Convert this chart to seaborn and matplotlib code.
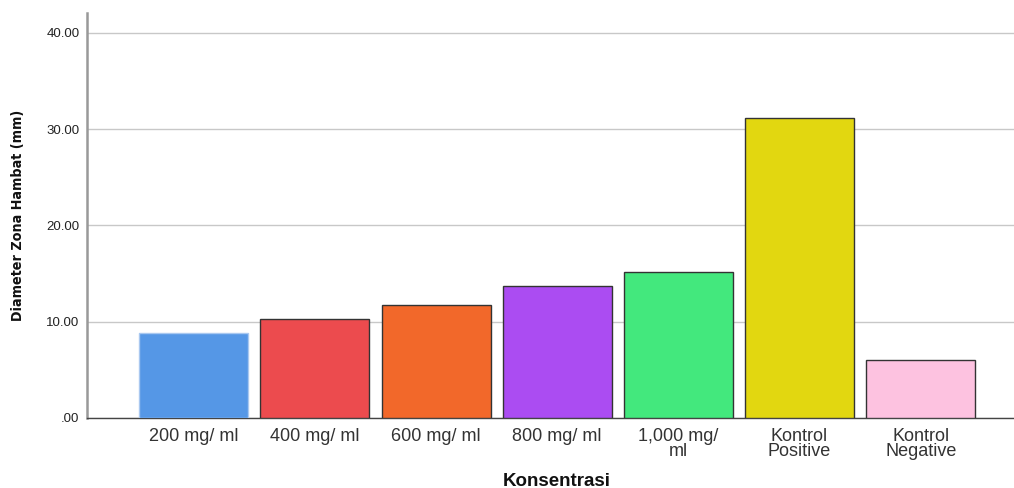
import matplotlib
matplotlib.use("Agg")
import matplotlib.pyplot as plt
import seaborn as sns
import pandas as pd
from matplotlib.ticker import FuncFormatter

categories = ["200 mg/ ml", "400 mg/ ml", "600 mg/ ml", "800 mg/ ml",
              "1,000 mg/\nml", "Kontrol\nPositive", "Kontrol\nNegative"]
values = [8.83, 10.31, 11.77, 13.71, 15.13, 31.18, 5.99]
colors = ["#5597e6", "#ec4b4e", "#f2682a", "#ab4cf2", "#43e87d", "#e2d710", "#fdc2e0"]
edges = ["#a9c8f0", "#333333", "#333333", "#333333", "#333333", "#333333", "#333333"]
yticks = [0, 10, 20, 30, 40]

df = pd.DataFrame({"Konsentrasi": categories, "Diameter": values})

sns.set_style("white")
plt.rcParams['font.family'] = ['Liberation Sans', 'DejaVu Sans']

fig = plt.figure(figsize=(10.14, 4.88), dpi=100)
ax = fig.add_axes([86.5/1014, 1 - 418/488, 1 - 86.5/1014, (418 - 13)/488])

sns.barplot(data=df, x="Konsentrasi", y="Diameter", hue="Konsentrasi",
            palette=colors, order=categories, hue_order=categories,
            width=0.9, saturation=1, legend=False, ax=ax, zorder=3)
for p, ec in zip(ax.patches, edges):
    p.set_edgecolor(ec)
    p.set_linewidth(1.0)

ax.set_ylim(0, 42.05)
ax.set_xlim(-0.885, 6.77)
ax.set_yticks(yticks)
ax.yaxis.set_major_formatter(FuncFormatter(lambda v, _: ".00" if v == 0 else f"{v:.2f}"))
ax.grid(axis="y", color="#c8c8c8", linewidth=1.0, zorder=0)
ax.set_axisbelow(True)
ax.tick_params(axis="both", length=0)
ax.tick_params(axis="y", labelsize=9.5, colors="#222222", pad=5)
ax.tick_params(axis="x", labelsize=13, colors="#333333", pad=7)
for t in ax.get_xticklabels():
    t.set_linespacing(0.85)

for s in ["top", "right"]:
    ax.spines[s].set_visible(False)
ax.spines["left"].set_color("#999999")
ax.spines["left"].set_linewidth(1.8)
ax.spines["bottom"].set_color("#444444")
ax.spines["bottom"].set_linewidth(1.0)

ax.set_xlabel("")
ax.set_ylabel("")
fig.text(557/1014, 1 - 481/488, "Konsentrasi", ha="center", va="center",
         fontsize=13.5, fontweight="bold", color="#111111")
fig.text(18/1014, 1 - 215/488, "Diameter Zona Hambat (mm)", ha="center", va="center",
         rotation=90, fontsize=10.3, fontweight="bold", fontstretch="condensed",
         color="#111111", family=["DejaVu Sans"])

fig.savefig("out.png", dpi=100)
